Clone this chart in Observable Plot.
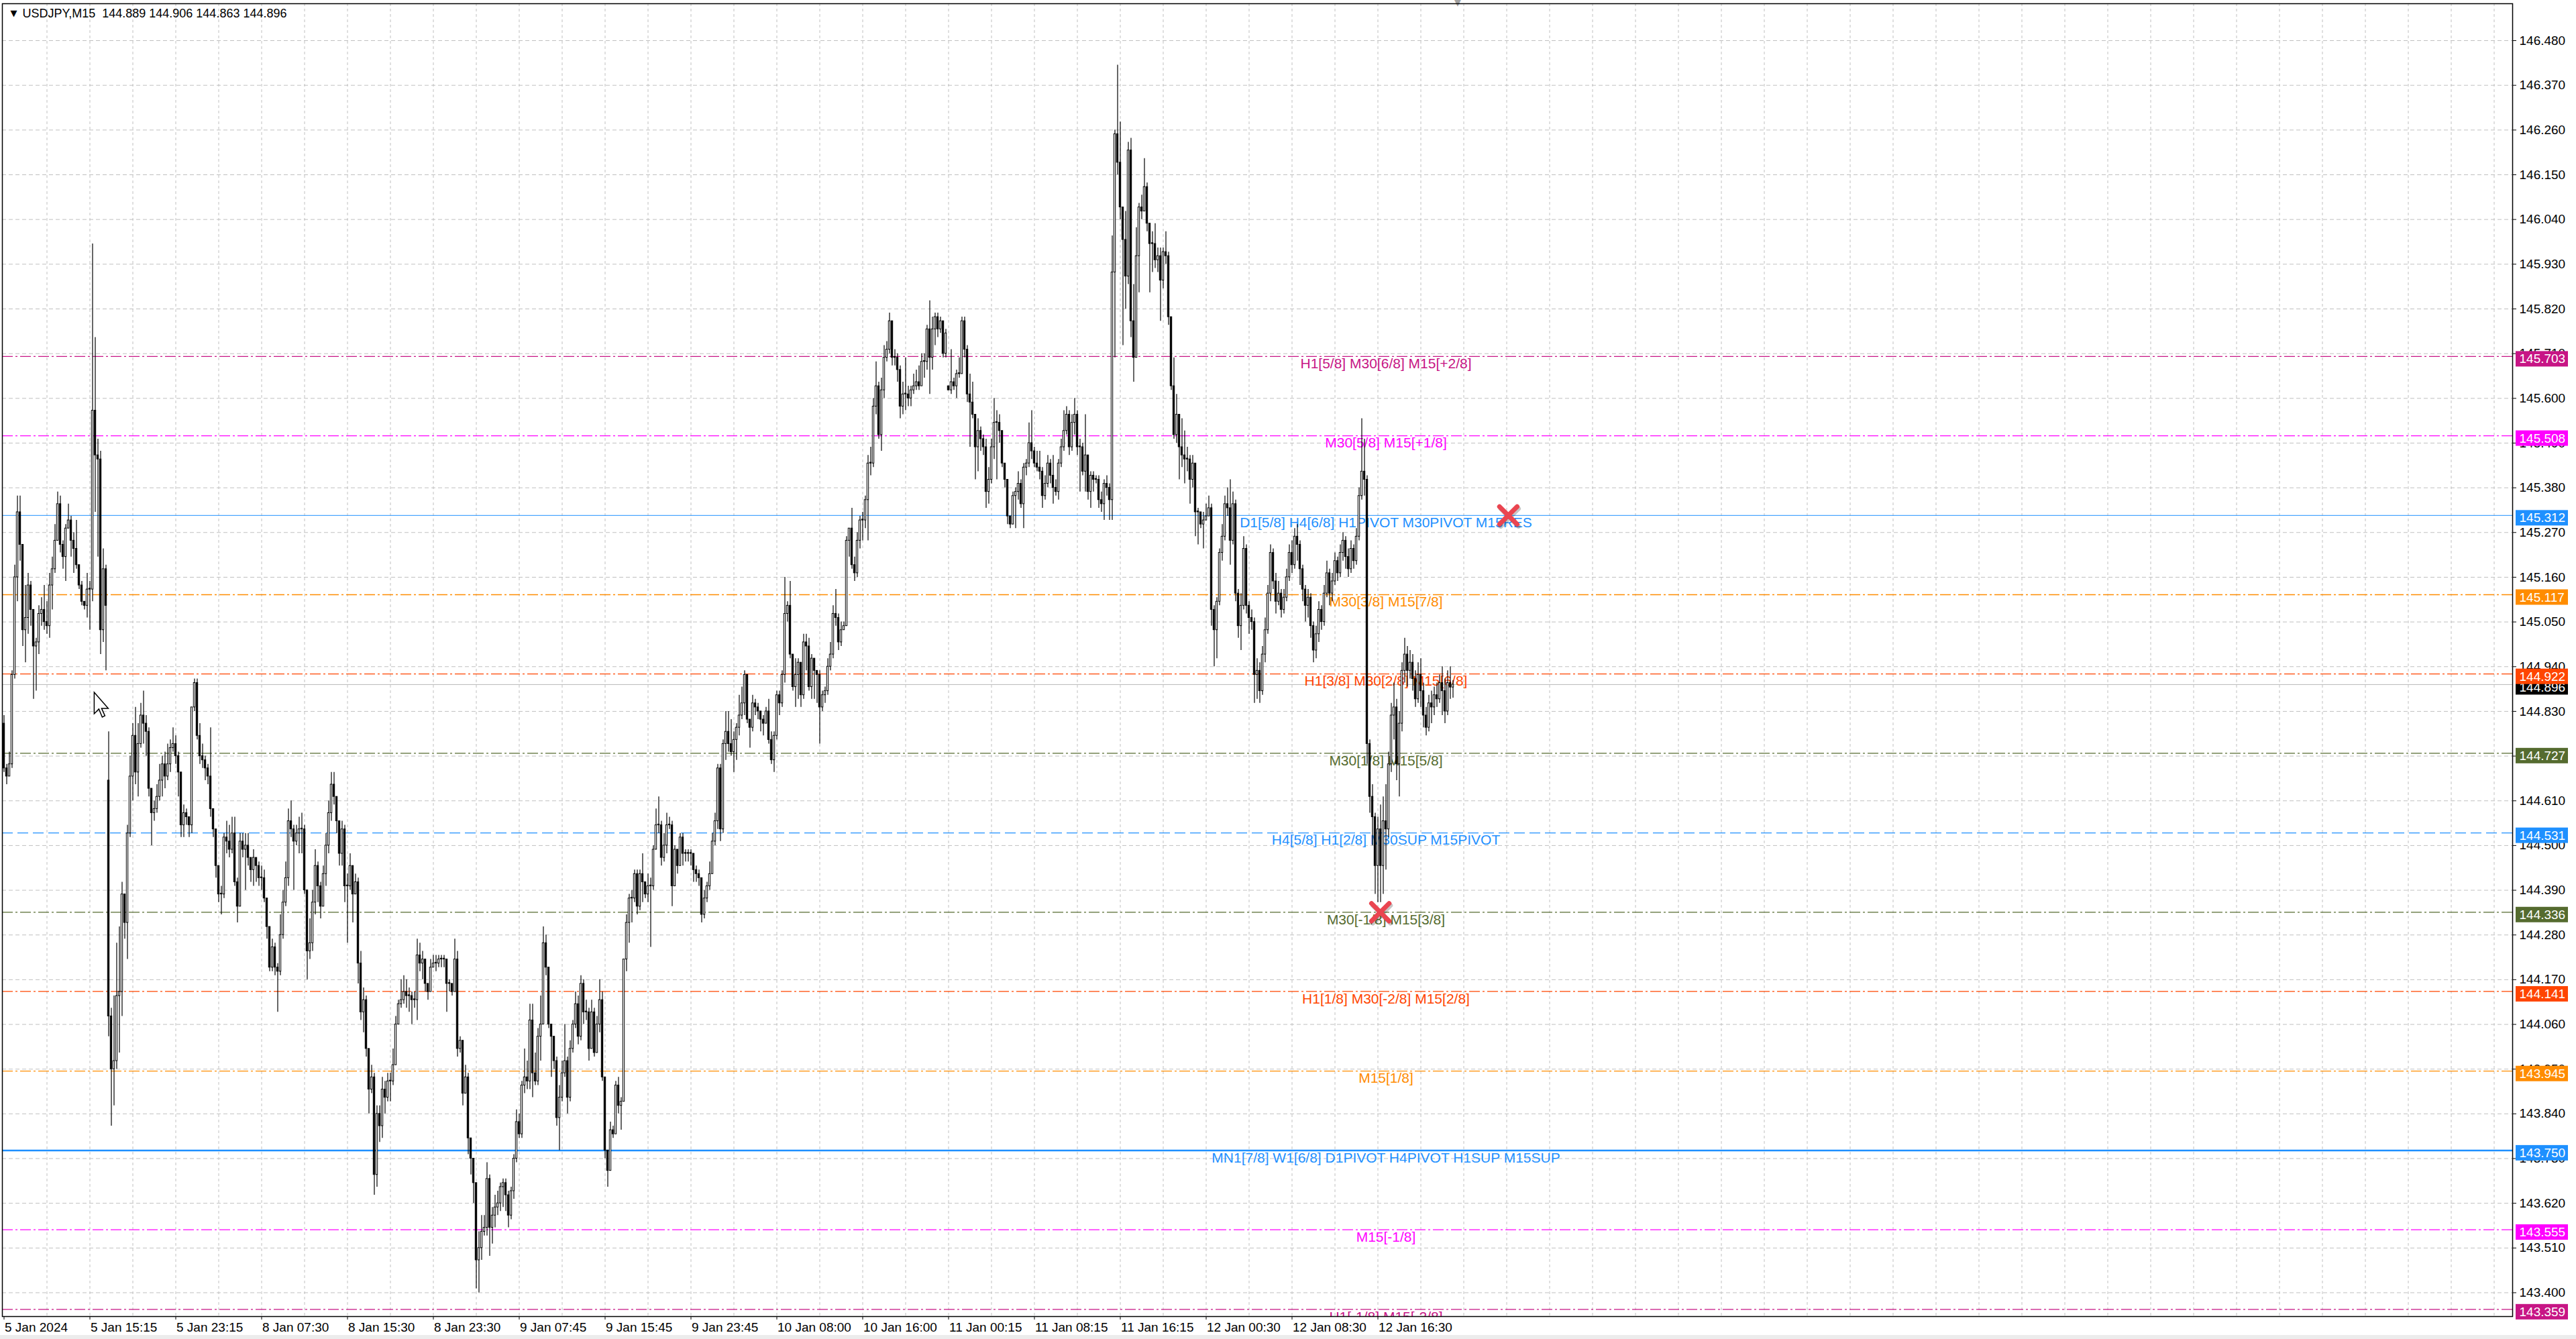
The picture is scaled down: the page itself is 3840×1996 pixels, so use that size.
<!DOCTYPE html>
<html>
<head>
<meta charset="utf-8">
<script src="https://cdn.jsdelivr.net/npm/d3@7"></script>
<script src="https://cdn.jsdelivr.net/npm/@observablehq/plot@0.6"></script>
<style>
  body { margin: 0; background: #ececec; overflow: hidden; }
  #chart svg { display: block; }
</style>
</head>
<body>
<div id="chart"></div>
<script>
// USDJPY M15, one value per bar (bar 0 = 5 Jan 2024 07:15)
const firstOpen = 144.80
const gapOpens = [[39, 144.66], [352, 145.63]]

const closes = [
  144.69,144.67,144.70,144.92,145.16,145.32,145.24,145.03,145.06,145.14,
  145.08,144.99,145.00,145.07,145.08,145.05,145.04,145.14,145.18,145.25,
  145.34,145.24,145.21,145.28,145.30,145.25,145.23,145.19,145.14,145.10,
  145.09,145.13,145.13,145.57,145.46,145.45,145.03,145.18,145.09,144.08,
  143.95,143.97,144.13,144.14,144.38,144.31,144.53,144.67,144.77,144.68,
  144.75,144.82,144.80,144.78,144.64,144.58,144.59,144.62,144.66,144.70,
  144.67,144.70,144.74,144.75,144.72,144.68,144.55,144.58,144.57,144.55,
  144.84,144.90,144.77,144.72,144.71,144.69,144.67,144.59,144.54,144.45,
  144.38,144.38,144.52,144.51,144.49,144.53,144.41,144.35,144.51,144.49,
  144.50,144.47,144.44,144.47,144.45,144.42,144.42,144.37,144.30,144.20,
  144.25,144.20,144.19,144.28,144.36,144.42,144.56,144.54,144.51,144.53,
  144.54,144.54,144.39,144.24,144.26,144.36,144.45,144.40,144.35,144.43,
  144.50,144.58,144.65,144.62,144.56,144.48,144.54,144.40,144.40,144.45,
  144.38,144.41,144.21,144.09,144.12,144.00,143.90,143.93,143.69,143.84,
  143.81,143.90,143.88,143.92,143.92,143.96,144.06,144.11,144.12,144.14,
  144.13,144.13,144.12,144.12,144.23,144.21,144.22,144.16,144.14,144.20,
  144.21,144.21,144.22,144.22,144.22,144.16,144.16,144.14,144.22,144.00,
  144.02,143.89,143.93,143.78,143.73,143.67,143.48,143.51,143.55,143.56,
  143.68,143.56,143.59,143.61,143.62,143.66,143.67,143.64,143.59,143.65,
  143.73,143.82,143.79,143.91,143.93,143.92,144.07,143.94,143.92,144.03,
  144.06,144.26,144.20,144.06,144.03,143.97,143.83,143.88,143.94,143.97,
  143.88,144.00,144.06,144.11,144.03,144.16,144.09,144.09,144.00,144.09,
  143.99,144.06,144.12,143.93,143.75,143.70,143.80,143.79,143.91,143.86,
  143.87,144.22,144.31,144.37,144.37,144.43,144.35,144.43,144.41,144.38,
  144.40,144.40,144.49,144.55,144.55,144.47,144.50,144.55,144.55,144.40,
  144.49,144.45,144.52,144.48,144.48,144.48,144.48,144.44,144.43,144.42,
  144.33,144.37,144.40,144.43,144.51,144.56,144.69,144.54,144.75,144.78,
  144.75,144.73,144.76,144.79,144.82,144.85,144.92,144.81,144.79,144.85,
  144.84,144.83,144.81,144.80,144.83,144.76,144.71,144.77,144.87,144.85,
  144.92,145.07,145.09,144.97,144.89,144.92,144.95,144.87,145.00,144.99,
  144.89,144.96,144.93,144.92,144.84,144.87,144.88,144.94,144.97,145.07,
  145.06,145.00,145.03,145.04,145.25,145.28,145.19,145.17,145.25,145.30,
  145.30,145.35,145.44,145.44,145.58,145.63,145.51,145.62,145.70,145.72,
  145.79,145.70,145.70,145.67,145.58,145.61,145.61,145.60,145.62,145.63,
  145.64,145.63,145.69,145.69,145.77,145.70,145.77,145.80,145.77,145.79,
  145.71,145.76,145.62,145.64,145.63,145.66,145.66,145.79,145.72,145.61,
  145.59,145.56,145.48,145.52,145.50,145.48,145.37,145.40,145.48,145.54,
  145.54,145.52,145.44,145.40,145.31,145.29,145.36,145.37,145.39,145.34,
  145.43,145.44,145.49,145.47,145.44,145.43,145.42,145.36,145.39,145.44,
  145.41,145.38,145.37,145.44,145.48,145.52,145.56,145.48,145.54,145.56,
  145.48,145.48,145.42,145.46,145.37,145.41,145.40,145.40,145.35,145.34,
  145.39,145.38,145.35,145.91,146.25,146.18,146.07,145.99,145.90,146.21,
  145.79,145.70,145.95,146.07,146.06,146.12,146.03,145.98,145.98,145.94,
  145.95,145.89,145.96,145.95,145.80,145.63,145.51,145.56,145.48,145.46,
  145.45,145.45,145.40,145.44,145.32,145.32,145.29,145.30,145.31,145.33,
  145.08,145.03,145.10,145.22,145.26,145.34,145.33,145.25,145.34,145.12,
  145.04,145.09,145.23,145.09,145.06,145.05,144.92,144.93,144.88,144.97,
  145.03,145.12,145.22,145.15,145.10,145.12,145.08,145.11,145.16,145.22,
  145.19,145.26,145.24,145.18,145.13,145.09,145.11,145.04,144.98,145.02,
  145.08,145.05,145.12,145.17,145.12,145.15,145.20,145.17,145.22,145.25,
  145.21,145.18,145.23,145.20,145.26,145.36,145.42,145.40,144.75,144.62,
  144.57,144.45,144.54,144.45,144.56,144.54,144.70,144.82,144.84,144.70,
  144.80,144.93,144.97,144.93,144.95,144.91,144.86,144.92,144.88,144.82,
  144.79,144.85,144.84,144.87,144.86,144.90,144.88,144.83,144.90,144.889,
  144.896
]

const highs = [
  144.82,144.70,144.73,144.93,145.19,145.36,145.36,145.24,145.14,145.17,
  145.15,145.08,145.01,145.09,145.11,145.14,145.10,145.17,145.21,145.29,
  145.37,145.36,145.25,145.29,145.34,145.31,145.27,145.30,145.19,145.15,
  145.10,145.17,145.15,145.98,145.75,145.50,145.47,145.23,145.19,144.78,
  144.10,144.13,144.26,144.30,144.41,144.38,144.55,144.72,144.80,144.84,
  144.80,144.85,144.88,144.82,144.79,144.64,144.61,144.65,144.70,144.72,
  144.73,144.75,144.76,144.79,144.77,144.73,144.68,144.60,144.59,144.57,
  144.84,144.91,144.91,144.80,144.75,144.72,144.70,144.79,144.59,144.54,
  144.45,144.40,144.53,144.56,144.55,144.57,144.57,144.42,144.53,144.53,
  144.53,144.53,144.47,144.49,144.47,144.46,144.45,144.44,144.37,144.30,
  144.27,144.26,144.21,144.33,144.39,144.46,144.59,144.61,144.55,144.55,
  144.57,144.58,144.55,144.39,144.32,144.39,144.49,144.46,144.41,144.45,
  144.53,144.61,144.68,144.68,144.62,144.56,144.56,144.55,144.43,144.48,
  144.45,144.43,144.42,144.24,144.15,144.13,144.00,143.96,143.94,143.86,
  143.86,143.93,143.92,143.94,143.94,144.00,144.08,144.12,144.17,144.18,
  144.17,144.15,144.14,144.14,144.27,144.26,144.24,144.22,144.16,144.22,
  144.23,144.23,144.23,144.23,144.23,144.22,144.17,144.16,144.27,144.24,
  144.03,144.02,143.96,143.94,143.78,143.73,143.67,143.55,143.59,143.59,
  143.72,143.69,143.61,143.64,143.65,143.67,143.68,143.68,143.65,143.66,
  143.74,143.85,143.84,143.92,144.00,143.97,144.11,144.11,143.99,144.05,
  144.13,144.30,144.28,144.20,144.06,144.03,143.98,143.91,143.97,144.06,
  143.98,144.02,144.07,144.14,144.13,144.18,144.17,144.12,144.10,144.12,
  144.10,144.08,144.17,144.14,143.93,143.75,143.82,143.81,143.92,143.93,
  143.88,144.22,144.33,144.38,144.39,144.44,144.44,144.44,144.48,144.41,
  144.43,144.42,144.50,144.59,144.62,144.56,144.53,144.58,144.57,144.56,
  144.50,144.49,144.53,144.53,144.49,144.49,144.49,144.48,144.45,144.44,
  144.42,144.39,144.41,144.46,144.53,144.58,144.70,144.70,144.76,144.83,
  144.83,144.81,144.78,144.80,144.87,144.89,144.93,144.92,144.81,144.87,
  144.86,144.85,144.83,144.82,144.84,144.86,144.78,144.78,144.88,144.88,
  144.93,145.16,145.10,145.15,144.97,144.96,144.96,144.95,145.02,145.02,
  145.01,144.97,144.96,144.93,144.93,144.88,144.89,144.96,145.00,145.09,
  145.13,145.07,145.05,145.05,145.26,145.28,145.33,145.21,145.27,145.31,
  145.32,145.36,145.46,145.48,145.60,145.69,145.64,145.65,145.73,145.74,
  145.81,145.79,145.72,145.71,145.68,145.64,145.70,145.63,145.63,145.66,
  145.67,145.68,145.71,145.71,145.78,145.84,145.80,145.81,145.81,145.80,
  145.79,145.77,145.63,145.72,145.65,145.67,145.70,145.80,145.80,145.73,
  145.66,145.64,145.56,145.55,145.53,145.51,145.50,145.43,145.50,145.60,
  145.57,145.56,145.52,145.44,145.40,145.31,145.37,145.38,145.42,145.40,
  145.44,145.45,145.54,145.57,145.48,145.47,145.47,145.43,145.41,145.46,
  145.45,145.46,145.40,145.45,145.50,145.57,145.58,145.57,145.56,145.60,
  145.57,145.50,145.49,145.56,145.46,145.42,145.42,145.41,145.41,145.37,
  145.40,145.41,145.39,146.00,146.26,146.42,146.28,146.07,146.06,146.23,
  146.24,145.88,146.02,146.08,146.10,146.19,146.13,146.03,146.01,146.03,
  145.97,145.97,145.97,146.01,145.96,145.80,145.70,145.61,145.56,145.55,
  145.52,145.48,145.46,145.46,145.44,145.33,145.32,145.32,145.34,145.36,
  145.34,145.09,145.11,145.23,145.29,145.36,145.38,145.40,145.37,145.35,
  145.13,145.12,145.26,145.24,145.10,145.08,145.06,144.96,144.95,144.99,
  145.06,145.14,145.24,145.23,145.17,145.15,145.13,145.13,145.18,145.24,
  145.25,145.28,145.29,145.25,145.19,145.14,145.13,145.12,145.05,145.04,
  145.10,145.09,145.14,145.20,145.18,145.17,145.22,145.21,145.24,145.27,
  145.26,145.23,145.25,145.24,145.28,145.38,145.55,145.50,145.41,144.76,
  144.65,144.58,144.57,144.60,144.62,144.65,144.73,144.85,144.90,144.86,
  144.83,144.95,145.01,144.99,144.98,144.97,144.93,144.95,144.96,144.90,
  144.84,144.87,144.88,144.89,144.90,144.92,144.94,144.91,144.93,144.94,
  144.906
]

const lows = [
  144.68,144.65,144.67,144.69,144.91,145.10,145.20,144.99,144.95,145.02,
  145.04,144.86,144.88,144.97,145.04,145.03,145.02,145.01,145.08,145.17,
  145.25,145.22,145.18,145.15,145.28,145.21,145.17,145.18,145.13,145.09,
  145.08,145.06,145.03,145.10,145.32,145.21,144.97,145.00,144.93,144.03,
  143.81,143.86,143.95,143.99,144.08,144.27,144.22,144.52,144.61,144.65,
  144.62,144.74,144.75,144.72,144.62,144.50,144.56,144.58,144.61,144.62,
  144.64,144.66,144.68,144.73,144.70,144.62,144.52,144.52,144.55,144.52,
  144.53,144.83,144.76,144.70,144.69,144.66,144.65,144.57,144.52,144.42,
  144.36,144.33,144.37,144.48,144.47,144.48,144.40,144.31,144.35,144.47,
  144.39,144.45,144.41,144.40,144.41,144.40,144.39,144.36,144.27,144.19,
  144.19,144.18,144.09,144.18,144.27,144.35,144.40,144.52,144.39,144.50,
  144.48,144.48,144.38,144.17,144.22,144.24,144.33,144.36,144.32,144.35,
  144.40,144.48,144.56,144.60,144.53,144.45,144.45,144.36,144.26,144.39,
  144.31,144.38,144.16,144.07,144.04,143.98,143.84,143.89,143.64,143.66,
  143.77,143.78,143.84,143.87,143.87,143.91,143.96,144.06,144.10,144.11,
  144.10,144.09,144.06,144.10,144.07,144.19,144.17,144.14,144.12,144.14,
  144.20,144.19,144.20,144.20,144.20,144.09,144.14,144.13,144.14,143.98,
  143.99,143.86,143.89,143.74,143.69,143.62,143.41,143.40,143.48,143.54,
  143.54,143.49,143.52,143.56,143.59,143.60,143.61,143.60,143.56,143.58,
  143.63,143.72,143.78,143.78,143.89,143.90,143.90,143.88,143.91,143.91,
  143.97,144.06,144.18,144.05,143.93,143.95,143.81,143.75,143.87,143.93,
  143.84,143.87,143.99,144.05,144.01,144.02,144.06,144.07,143.97,144.00,
  143.98,143.99,144.04,143.92,143.73,143.66,143.70,143.78,143.79,143.84,
  143.80,143.87,144.19,144.26,144.31,144.36,144.33,144.34,144.36,144.37,
  144.36,144.25,144.39,144.49,144.53,144.45,144.46,144.48,144.54,144.35,
  144.40,144.43,144.45,144.45,144.46,144.46,144.45,144.41,144.41,144.40,
  144.31,144.32,144.36,144.39,144.43,144.50,144.54,144.51,144.53,144.71,
  144.73,144.72,144.68,144.71,144.77,144.81,144.82,144.80,144.74,144.78,
  144.82,144.81,144.78,144.77,144.80,144.75,144.70,144.68,144.76,144.82,
  144.84,144.90,145.05,144.96,144.88,144.84,144.86,144.84,144.86,144.93,
  144.88,144.86,144.86,144.85,144.75,144.83,144.85,144.87,144.93,144.96,
  145.04,144.98,144.99,145.03,145.04,145.21,145.18,145.15,145.16,145.23,
  145.25,145.28,145.25,145.41,145.43,145.56,145.50,145.47,145.60,145.69,
  145.71,145.68,145.68,145.64,145.55,145.56,145.57,145.58,145.58,145.61,
  145.62,145.62,145.63,145.65,145.67,145.61,145.67,145.73,145.75,145.76,
  145.70,145.70,145.62,145.61,145.62,145.60,145.65,145.66,145.70,145.59,
  145.48,145.55,145.40,145.42,145.47,145.46,145.33,145.34,145.39,145.45,
  145.40,145.49,145.43,145.38,145.29,145.28,145.29,145.28,145.35,145.33,
  145.28,145.41,145.43,145.45,145.43,145.42,145.40,145.33,145.35,145.38,
  145.39,145.34,145.36,145.35,145.43,145.47,145.51,145.46,145.47,145.51,
  145.46,145.37,145.41,145.37,145.35,145.33,145.37,145.39,145.33,145.32,
  145.30,145.36,145.30,145.30,145.70,146.15,146.04,145.73,145.82,145.88,
  145.75,145.64,145.70,145.86,146.04,146.06,146.01,145.86,145.91,145.92,
  145.91,145.79,145.87,145.93,145.78,145.62,145.50,145.49,145.40,145.43,
  145.39,145.42,145.34,145.38,145.26,145.24,145.28,145.23,145.30,145.31,
  145.04,144.94,144.96,145.09,145.20,145.25,145.31,145.19,145.24,145.10,
  145.01,144.98,145.08,145.07,145.02,145.03,144.85,144.86,144.85,144.87,
  144.95,145.02,145.10,145.13,145.07,145.09,145.06,145.07,145.10,145.15,
  145.17,145.18,145.20,145.14,145.10,145.05,145.06,145.01,144.95,144.96,
  145.00,145.03,145.04,145.11,145.09,145.10,145.14,145.15,145.16,145.20,
  145.18,145.16,145.17,145.18,145.19,145.25,145.35,145.36,144.70,144.58,
  144.50,144.38,144.36,144.36,144.38,144.44,144.52,144.68,144.76,144.66,
  144.62,144.78,144.90,144.89,144.91,144.88,144.84,144.85,144.84,144.79,
  144.77,144.78,144.80,144.82,144.84,144.85,144.82,144.80,144.82,144.86,
  144.863
]

// Murrey / pivot levels drawn across the chart
const levelPrices = [145.703, 145.508, 145.312, 145.117, 144.922, 144.727, 144.531,
                     144.336, 144.141, 143.945, 143.750, 143.555, 143.359]
const levelLabels = [
  'H1[5/8] M30[6/8] M15[+2/8]',
  'M30[5/8] M15[+1/8]',
  'D1[5/8] H4[6/8] H1PIVOT M30PIVOT M15RES',
  'M30[3/8] M15[7/8]',
  'H1[3/8] M30[2/8] M15[6/8]',
  'M30[1/8] M15[5/8]',
  'H4[5/8] H1[2/8] M30SUP M15PIVOT',
  'M30[-1/8] M15[3/8]',
  'H1[1/8] M30[-2/8] M15[2/8]',
  'M15[1/8]',
  'MN1[7/8] W1[6/8] D1PIVOT H4PIVOT H1SUP M15SUP',
  'M15[-1/8]',
  'H1[-1/8] M15[-2/8]'
]
const bidPrice = 144.896
const header = 'USDJPY,M15\u00a0 144.889 144.906 144.863 144.896'

// red crosses (bar, price)
const crossBars = [560.6, 512.9]
const crossPrices = [145.312, 144.336]
// mouse pointer left on the chart (bar, price)
const pointerBar = [33.6]
const pointerPrice = [144.877]

const priceTicks = [146.48, 146.37, 146.26, 146.15, 146.04, 145.93, 145.82, 145.71, 145.60,
  145.49, 145.38, 145.27, 145.16, 145.05, 144.94, 144.83, 144.72, 144.61, 144.50, 144.39,
  144.28, 144.17, 144.06, 143.95, 143.84, 143.73, 143.62, 143.51, 143.40]
const timeBars = [0, 32, 64, 96, 128, 160, 192, 224, 256, 288, 320, 352, 384, 416, 448, 480, 512]
const timeLabels = ['5 Jan 2024', '5 Jan 15:15', '5 Jan 23:15', '8 Jan 07:30', '8 Jan 15:30',
  '8 Jan 23:30', '9 Jan 07:45', '9 Jan 15:45', '9 Jan 23:45', '10 Jan 08:00', '10 Jan 16:00',
  '11 Jan 00:15', '11 Jan 08:15', '11 Jan 16:15', '12 Jan 00:30', '12 Jan 08:30', '12 Jan 16:30']

// ---- styles ----
const VR = 'mediumvioletred', MG = 'magenta', DB = 'dodgerblue', DO = 'darkorange',
      OR = 'orangered', OL = 'darkolivegreen'
const levelColors = [VR, MG, DB, DO, OR, OL, DB, OL, OR, DO, DB, MG, VR]
const dashDot = '16,4,3,4'
const levelDash = [dashDot, dashDot, null, dashDot, dashDot, dashDot, '16,7',
                   dashDot, dashDot, dashDot, null, dashDot, dashDot]
const levelWidth = [1.3, 1.3, 1, 1.3, 1.3, 1.3, 1.3, 1.3, 1.3, 1.3, 2.5, 1.3, 1.3]

// ---- build tables ----
const candles = closes.map((c, i) => {
  const open = i === 0 ? firstOpen : closes[i - 1]
  return {i, open, close: c, high: highs[i], low: lows[i]}
})
gapOpens.forEach(([i, o]) => { candles[i].open = o })
candles.forEach(d => {
  d.high = Math.max(d.high, d.open, d.close)
  d.low = Math.min(d.low, d.open, d.close)
})
const levels = levelPrices.map((p, k) => ({price: p, label: levelLabels[k], color: levelColors[k]}))
const crosses = crossBars.map((b, k) => ({bar: b, price: crossPrices[k]}))
const timeTicks = timeBars.map((b, k) => ({bar: b, label: timeLabels[k]}))
const pointer = pointerBar.map((b, k) => ({bar: b, price: pointerPrice[k]}))

// arrow cursor shape, tip at the anchor point
const arrowSymbol = {
  draw(ctx) {
    ctx.moveTo(0, 0); ctx.lineTo(0, 32); ctx.lineTo(7, 25); ctx.lineTo(12, 37)
    ctx.lineTo(16, 35); ctx.lineTo(11, 24); ctx.lineTo(21, 24); ctx.closePath()
  }
}

const xEnd = 934.875
const labelBar = 515
const font = 'Liberation Sans, Arial, sans-serif'
const box = {insetLeft: 5, insetRight: -83, insetTop: -7.5, insetBottom: -15.5}

let chart = Plot.plot({
  width: 3840,
  height: 1990,
  marginLeft: 3,
  marginRight: 95,
  marginTop: 5,
  marginBottom: 28,
  x: {domain: [-0.625, xEnd], axis: null},
  y: {domain: [143.3414, 146.5708], axis: null},
  style: {background: 'white', fontFamily: font, overflow: 'visible'},
  marks: [
    // grid
    Plot.ruleY(priceTicks, {y: d => d, stroke: '#c0c0c0', strokeDasharray: '6,4'}),
    Plot.ruleX(d3.range(16, xEnd, 16), {x: d => d, stroke: '#c0c0c0', strokeDasharray: '4,4'}),

    // level lines
    ...levels.map((l, k) => Plot.ruleY([l.price], {
      stroke: l.color, strokeWidth: levelWidth[k],
      strokeDasharray: levelDash[k] || undefined
    })),
    Plot.ruleY([bidPrice], {stroke: '#b8b8b8', strokeWidth: 1}),

    // level labels
    Plot.text(levels, {
      x: labelBar, y: 'price', text: 'label', fill: 'color',
      fontSize: 21, fontFamily: font, dy: 11, clip: true
    }),

    // candles
    Plot.ruleX(candles, {x: 'i', y1: 'low', y2: 'high', stroke: 'black', strokeWidth: 1.2}),
    Plot.rect(candles, {
      x1: d => d.i - 0.3, x2: d => d.i + 0.3,
      y1: 'open', y2: d => (d.close === d.open ? d.open + 0.002 : d.close),
      fill: d => (d.close > d.open ? 'white' : 'black'),
      stroke: 'black', strokeWidth: 1
    }),

    // price axis
    Plot.ruleY(priceTicks, {y: d => d, x1: xEnd, x2: xEnd, insetRight: -6, stroke: 'black'}),
    Plot.text(priceTicks, {
      x: xEnd, y: d => d, text: d => d.toFixed(3), textAnchor: 'start',
      dx: 10, fontSize: 19, fill: 'black'
    }),
    // bid box (under the level boxes)
    Plot.rect([bidPrice], {x1: xEnd, x2: xEnd, y1: d => d, y2: d => d, ...box, fill: 'black'}),
    Plot.text([bidPrice], {
      x: xEnd, y: d => d, text: d => d.toFixed(3), textAnchor: 'start',
      dx: 10, dy: 4, fontSize: 19, fill: 'white'
    }),
    Plot.rect(levels, {x1: xEnd, x2: xEnd, y1: 'price', y2: 'price', ...box, fill: 'color'}),
    Plot.text(levels, {
      x: xEnd, y: 'price', text: d => d.price.toFixed(3), textAnchor: 'start',
      dx: 10, dy: 4, fontSize: 19, fill: 'white'
    }),

    // time axis
    Plot.ruleX(timeTicks, {x: 'bar', y1: 143.3414, y2: 143.3414, insetBottom: -5, stroke: 'black'}),
    Plot.text(timeTicks, {
      x: 'bar', text: 'label', frameAnchor: 'bottom', lineAnchor: 'middle', textAnchor: 'start',
      dx: 1, dy: 16, fontSize: 19, fill: 'black'
    }),

    // crosses
    Plot.dot(crosses, {
      x: 'bar', y: 'price', symbol: 'times', r: 12, dx: 2, dy: 3,
      stroke: 'rgba(0,0,0,0.22)', strokeWidth: 7, strokeLinecap: 'round'
    }),
    Plot.dot(crosses, {
      x: 'bar', y: 'price', symbol: 'times', r: 12,
      stroke: '#ea4550', strokeWidth: 7, strokeLinecap: 'round'
    }),

    // pointer
    Plot.dot(pointer, {x: 'bar', y: 'price', symbol: arrowSymbol, fill: 'white', stroke: 'black', strokeWidth: 1.5}),

    // header
    Plot.text(['\u25bc'], {frameAnchor: 'top-left', lineAnchor: 'middle', dx: 12, dy: 14, fontSize: 13, fontFamily: 'DejaVu Sans', fill: 'black'}),
    Plot.text([header], {frameAnchor: 'top-left', lineAnchor: 'middle', textAnchor: 'start', dx: 30, dy: 15, fontSize: 18, fill: 'black'}),
    Plot.text(['\u25bc'], {x: 541.7, frameAnchor: 'top', lineAnchor: 'middle', dy: -2, fontSize: 14, fontFamily: 'DejaVu Sans', fill: '#a0a0a0'}),

    Plot.frame({stroke: 'black', strokeWidth: 1.5})
  ]
})
d3.select('#chart').append(() => chart)
</script>
</body>
</html>
